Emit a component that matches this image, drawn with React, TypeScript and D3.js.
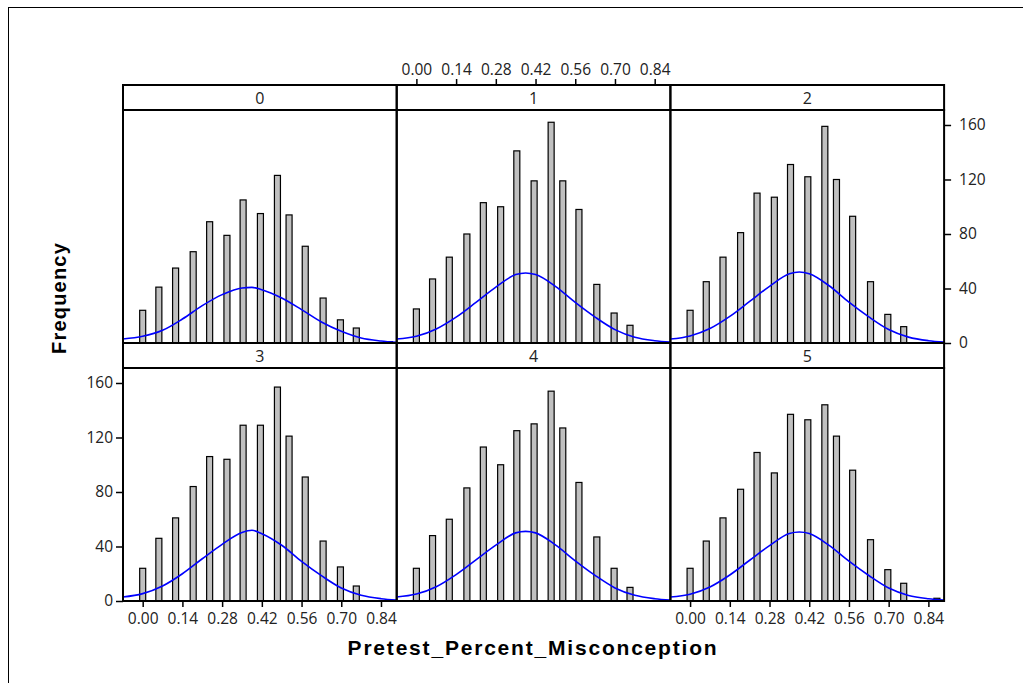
import React, { useEffect, useRef } from 'react';
import * as d3 from 'd3';

// ---- data ----
const panelLabels = ['0', '1', '2', '3', '4', '5'];
const binCenters = [0.0, 0.057, 0.116, 0.178, 0.236, 0.297, 0.354, 0.415, 0.475, 0.516, 0.573, 0.636, 0.697, 0.753, 0.87];
const freq0 = [24, 41, 55, 67, 89, 79, 105, 95, 123, 94, 71, 33, 17, 11, 1];
const freq1 = [25, 47, 63, 80, 103, 100, 141, 119, 162, 119, 98, 43, 22, 13, 0];
const freq2 = [24, 45, 63, 81, 110, 107, 131, 122, 159, 120, 93, 45, 21, 12, 0];
const freq3 = [24, 46, 61, 84, 106, 104, 129, 129, 157, 121, 91, 44, 25, 11, 0];
const freq4 = [24, 48, 60, 83, 113, 100, 125, 130, 154, 127, 87, 47, 24, 10, 0];
const freq5 = [24, 44, 61, 82, 109, 94, 137, 133, 144, 121, 96, 45, 23, 13, 2];

const curveX = [-0.07, 0, 0.07, 0.14, 0.21, 0.28, 0.35, 0.385, 0.42, 0.49, 0.56, 0.63, 0.7, 0.77, 0.84, 0.895];
const curve0 = [2.9, 4.9, 9.3, 17.6, 27.4, 35.5, 40.4, 40.8, 39.1, 33, 24.5, 15.4, 8.6, 3.7, 1.5, 0.5];
const curve1 = [2.9, 4.9, 10.3, 19, 29.8, 41, 50.2, 51.4, 50.2, 41.6, 29.8, 19, 9.8, 4.2, 1.7, 0.7];
const curve2 = [2.9, 5.2, 10.6, 19.5, 30.5, 41.6, 50.8, 52.1, 50.8, 42, 30, 19.2, 9.9, 4.3, 1.7, 0.7];
const curve3 = [2.9, 5.4, 11, 20, 31, 41.6, 50.2, 51.9, 49.4, 40.9, 29.1, 18.6, 9.5, 4.2, 1.7, 0.7];
const curve4 = [2.9, 5.1, 10.5, 19.4, 30.2, 41, 50, 51.1, 50, 41.2, 29.5, 18.8, 9.6, 4.2, 1.7, 0.7];
const curve5 = [2.9, 5, 10.3, 19.1, 29.9, 40.6, 49.5, 50.6, 49.5, 40.8, 29.2, 18.7, 9.5, 4.1, 1.7, 0.7];

const xTicks = [0, 0.14, 0.28, 0.42, 0.56, 0.7, 0.84];
const yTicks = [0, 40, 80, 120, 160];
const xDomain = [-0.0694, 0.8954];
const yDomain = [0, 171];

const xTitle = 'Pretest_Percent_Misconception';
const yTitle = 'Frequency';

const freqs = [freq0, freq1, freq2, freq3, freq4, freq5];
const curves = [curve0, curve1, curve2, curve3, curve4, curve5];

// ---- layout ----
const W = 1023;
const H = 683;
const LEFT = 123;
const TOP = 85;
const COL_W = 273.7;
const STRIP_H = 25;
const PLOT_H = 233;
const BAR_HALF = 0.0106;
const TICK_FONT = "'Open Sans', 'Noto Sans', sans-serif";
const TITLE_FONT = "'Liberation Sans', Arial, sans-serif";

export default function App() {
  const ref = useRef<SVGSVGElement>(null);

  useEffect(() => {
    const svg = d3.select(ref.current);
    svg.selectAll('*').remove();

    svg.append('rect').attr('x', 0).attr('y', 0).attr('width', W).attr('height', H).attr('fill', '#fff');
    svg.append('rect')
      .attr('x', 8.5).attr('y', 7.5).attr('width', W + 50).attr('height', H + 50)
      .attr('fill', 'none').attr('stroke', '#000').attr('stroke-width', 1);

    const rowTop = (r: number) => TOP + r * (STRIP_H + PLOT_H);

    const panels: { x: d3.ScaleLinear<number, number>; y: d3.ScaleLinear<number, number>; left: number; top: number }[] = [];

    for (let i = 0; i < 6; i++) {
      const r = Math.floor(i / 3);
      const c = i % 3;
      const left = LEFT + c * COL_W;
      const top = rowTop(r);
      const plotTop = top + STRIP_H;
      const plotBottom = plotTop + PLOT_H;
      const x = d3.scaleLinear().domain(xDomain).range([left, left + COL_W]);
      const y = d3.scaleLinear().domain(yDomain).range([plotBottom, plotTop]);
      panels.push({ x, y, left, top });

      const g = svg.append('g');

      // bars
      const data = binCenters.map((b, k) => ({ b, v: freqs[i][k] })).filter(d => d.v > 0);
      g.selectAll('rect.bar').data(data).enter().append('rect')
        .attr('class', 'bar')
        .attr('x', d => x(d.b - BAR_HALF))
        .attr('width', d => x(d.b + BAR_HALF) - x(d.b - BAR_HALF))
        .attr('y', d => y(d.v))
        .attr('height', d => y(0) - y(d.v))
        .attr('fill', '#c0c0c0')
        .attr('stroke', '#000')
        .attr('stroke-width', 1.2);

      // normal curve
      const line = d3.line<number>()
        .x((_, k) => x(curveX[k]))
        .y(d => y(d))
        .curve(d3.curveMonotoneX);
      g.append('path')
        .attr('d', line(curves[i]))
        .attr('fill', 'none')
        .attr('stroke', '#0000ff')
        .attr('stroke-width', 1.6);

      // strip
      g.append('rect')
        .attr('x', left).attr('y', top).attr('width', COL_W).attr('height', STRIP_H)
        .attr('fill', 'none').attr('stroke', '#000').attr('stroke-width', 2);
      g.append('text')
        .attr('x', left + COL_W / 2).attr('y', top + STRIP_H - 6)
        .attr('text-anchor', 'middle')
        .attr('font-family', TICK_FONT).attr('font-size', 16)
        .attr('fill', '#222')
        .text(panelLabels[i]);

      // plot frame
      g.append('rect')
        .attr('x', left).attr('y', plotTop).attr('width', COL_W).attr('height', PLOT_H)
        .attr('fill', 'none').attr('stroke', '#000').attr('stroke-width', 2);
    }

    const styleAxis = (sel: d3.Selection<SVGGElement, unknown, null, undefined>) => {
      sel.select('.domain').remove();
      sel.selectAll('line').attr('stroke', '#000').attr('stroke-width', 1.5);
      sel.selectAll('text').attr('font-family', TICK_FONT).attr('font-size', 15.5).attr('fill', '#222');
    };

    // left axis on panel 3
    {
      const p = panels[3];
      const a = svg.append('g').attr('transform', `translate(${p.left},0)`)
        .call(d3.axisLeft(p.y).tickValues(yTicks).tickSize(7).tickPadding(3).tickFormat(d3.format('d')) as any);
      styleAxis(a as any);
    }
    // right axis on panel 2
    {
      const p = panels[2];
      const a = svg.append('g').attr('transform', `translate(${p.left + COL_W},0)`)
        .call(d3.axisRight(p.y).tickValues(yTicks).tickSize(7).tickPadding(8).tickFormat(d3.format('d')) as any);
      styleAxis(a as any);
    }
    // top axis on panel 1
    {
      const p = panels[1];
      const a = svg.append('g').attr('transform', `translate(0,${p.top})`)
        .call(d3.axisTop(p.x).tickValues(xTicks).tickSize(6).tickPadding(4).tickFormat(d3.format('.2f')) as any);
      styleAxis(a as any);
    }
    // bottom axes on panels 3 and 5
    for (const idx of [3, 5]) {
      const p = panels[idx];
      const a = svg.append('g').attr('transform', `translate(0,${p.y(0)})`)
        .call(d3.axisBottom(p.x).tickValues(xTicks).tickSize(6).tickPadding(6).tickFormat(d3.format('.2f')) as any);
      styleAxis(a as any);
    }

    // titles
    svg.append('text')
      .attr('x', 533).attr('y', 655)
      .attr('text-anchor', 'middle')
      .attr('font-family', TITLE_FONT).attr('font-weight', 'bold').attr('font-size', 21)
      .attr('letter-spacing', 1.8)
      .text(xTitle);
    svg.append('text')
      .attr('transform', 'translate(66,298) rotate(-90)')
      .attr('text-anchor', 'middle')
      .attr('font-family', TITLE_FONT).attr('font-weight', 'bold').attr('font-size', 20)
      .attr('letter-spacing', 1.2)
      .text(yTitle);
  }, []);

  return (
    <svg ref={ref} width={W} height={H} style={{ position: 'absolute', left: 0, top: 0, display: 'block' }} />
  );
}
